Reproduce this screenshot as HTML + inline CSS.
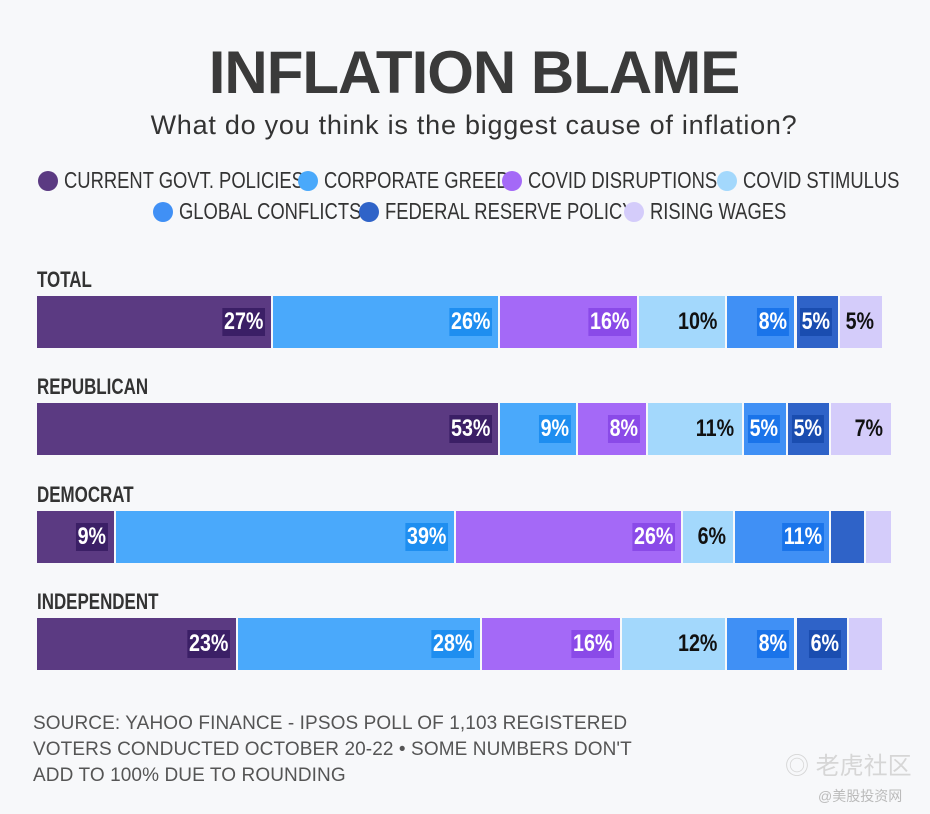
<!DOCTYPE html>
<html><head><meta charset="utf-8"><style>
body{margin:0;background:#f7f8fa;}
#c{position:relative;width:930px;height:814px;background:#f7f8fa;font-family:"Liberation Sans",sans-serif;overflow:hidden}
.t{position:absolute;white-space:nowrap}
.leg{position:absolute;font-size:23px;color:#333;white-space:nowrap}
.leg i{display:inline-block;width:20px;height:20px;border-radius:50%;vertical-align:-3px;margin-right:6px}
.leg span{display:inline-block;transform:scaleX(0.8);transform-origin:left center}
.seg{position:absolute;height:52px}
.lab{position:absolute;font-weight:bold;font-size:24px;top:0;transform:scaleX(0.82);transform-origin:right center;white-space:nowrap}
.rl{position:absolute;font-weight:bold;font-size:22px;color:#333;transform:scaleX(0.77);transform-origin:left center;white-space:nowrap}
</style></head><body>
<div id="c">
<div class="t" style="left:0;width:948px;text-align:center;top:38px;font-size:60px;font-weight:bold;color:#3a3a3a;letter-spacing:-1px">INFLATION BLAME</div>
<div class="t" style="left:0;width:948px;text-align:center;top:110px;font-size:27px;color:#333;letter-spacing:0.75px">What do you think is the biggest cause of inflation?</div>
<div id="legend"></div>
<div id="bars"></div>
<div class="t" style="left:33px;top:711px;font-size:19px;line-height:26px;color:#555;letter-spacing:0.1px">SOURCE: YAHOO FINANCE - IPSOS POLL OF 1,103 REGISTERED<br>VOTERS CONDUCTED OCTOBER 20-22 • SOME NUMBERS DON'T<br>ADD TO 100% DUE TO ROUNDING</div>
<div class="t" style="left:785px;top:746px;font-size:24px;color:#d6d6d6;font-family:'Liberation Sans','Noto Sans CJK SC',sans-serif">◎ 老虎社区</div>
<div class="t" style="left:818px;top:786px;font-size:14px;color:#bbb;font-family:'Liberation Sans','Noto Sans CJK SC',sans-serif">@美股投资网</div>
</div>
<script>
const categories=["CURRENT GOVT. POLICIES","CORPORATE GREED","COVID DISRUPTIONS","COVID STIMULUS","GLOBAL CONFLICTS","FEDERAL RESERVE POLICY","RISING WAGES"];
const groups=["TOTAL","REPUBLICAN","DEMOCRAT","INDEPENDENT"];
const total=[27,26,16,10,8,5,5];
const republican=[53,9,8,11,5,5,7];
const democrat=[9,39,26,6,11,4,3];
const independent=[23,28,16,12,8,6,4];
const series=[total,republican,democrat,independent];
const colors=["#5b3a82","#4aa9fb","#a469f7","#a3d8fc","#4090f5","#2f63c8","#d4ccfa"];
const halos=["#3b1f66","#1e8ef0","#8a4ae8",null,"#1a74ea","#1a4db0",null];
const x0=37,ppt=8.73;
const xs=v=>v*ppt;
const lg=document.getElementById('legend');
const lpos=[[38,167],[298,167],[502,167],[717,167],[153,198],[359,198],[624,198]];
categories.forEach((c,i)=>{const d=document.createElement('div');d.className='leg';


d.style.left=lpos[i][0]+'px';d.style.top=lpos[i][1]+'px';
d.innerHTML='<i style="background:'+colors[i]+'"></i><span>'+c+'</span>';lg.appendChild(d);});
const b=document.getElementById('bars');
groups.forEach((g,r)=>{
 const top=296+r*107.3;
 const l=document.createElement('div');l.className='rl';
 
 
 l.style.left='37px';l.style.top=(top-29)+'px';l.textContent=g;b.appendChild(l);
 let cum=0;
 series[r].forEach((v,i)=>{
  const s=document.createElement('div');s.className='seg';
  
  
  const left=x0+xs(cum);const w=xs(v)-2;
  s.style.left=left+'px';s.style.width=w+'px';s.style.top=top+'px';s.style.background=colors[i];
  if(v>=5){const t=document.createElement('div');t.className='lab';
   
   
   t.textContent=v+'%';t.style.right='6px';
   t.style.lineHeight='28px';t.style.top='12px';t.style.padding='0 2px';
   if(halos[i]){t.style.color='#fff';t.style.background=halos[i];}
   else{t.style.color='#111';}
   s.appendChild(t);}
  b.appendChild(s);cum+=v;});
});
</script>
</body></html>
